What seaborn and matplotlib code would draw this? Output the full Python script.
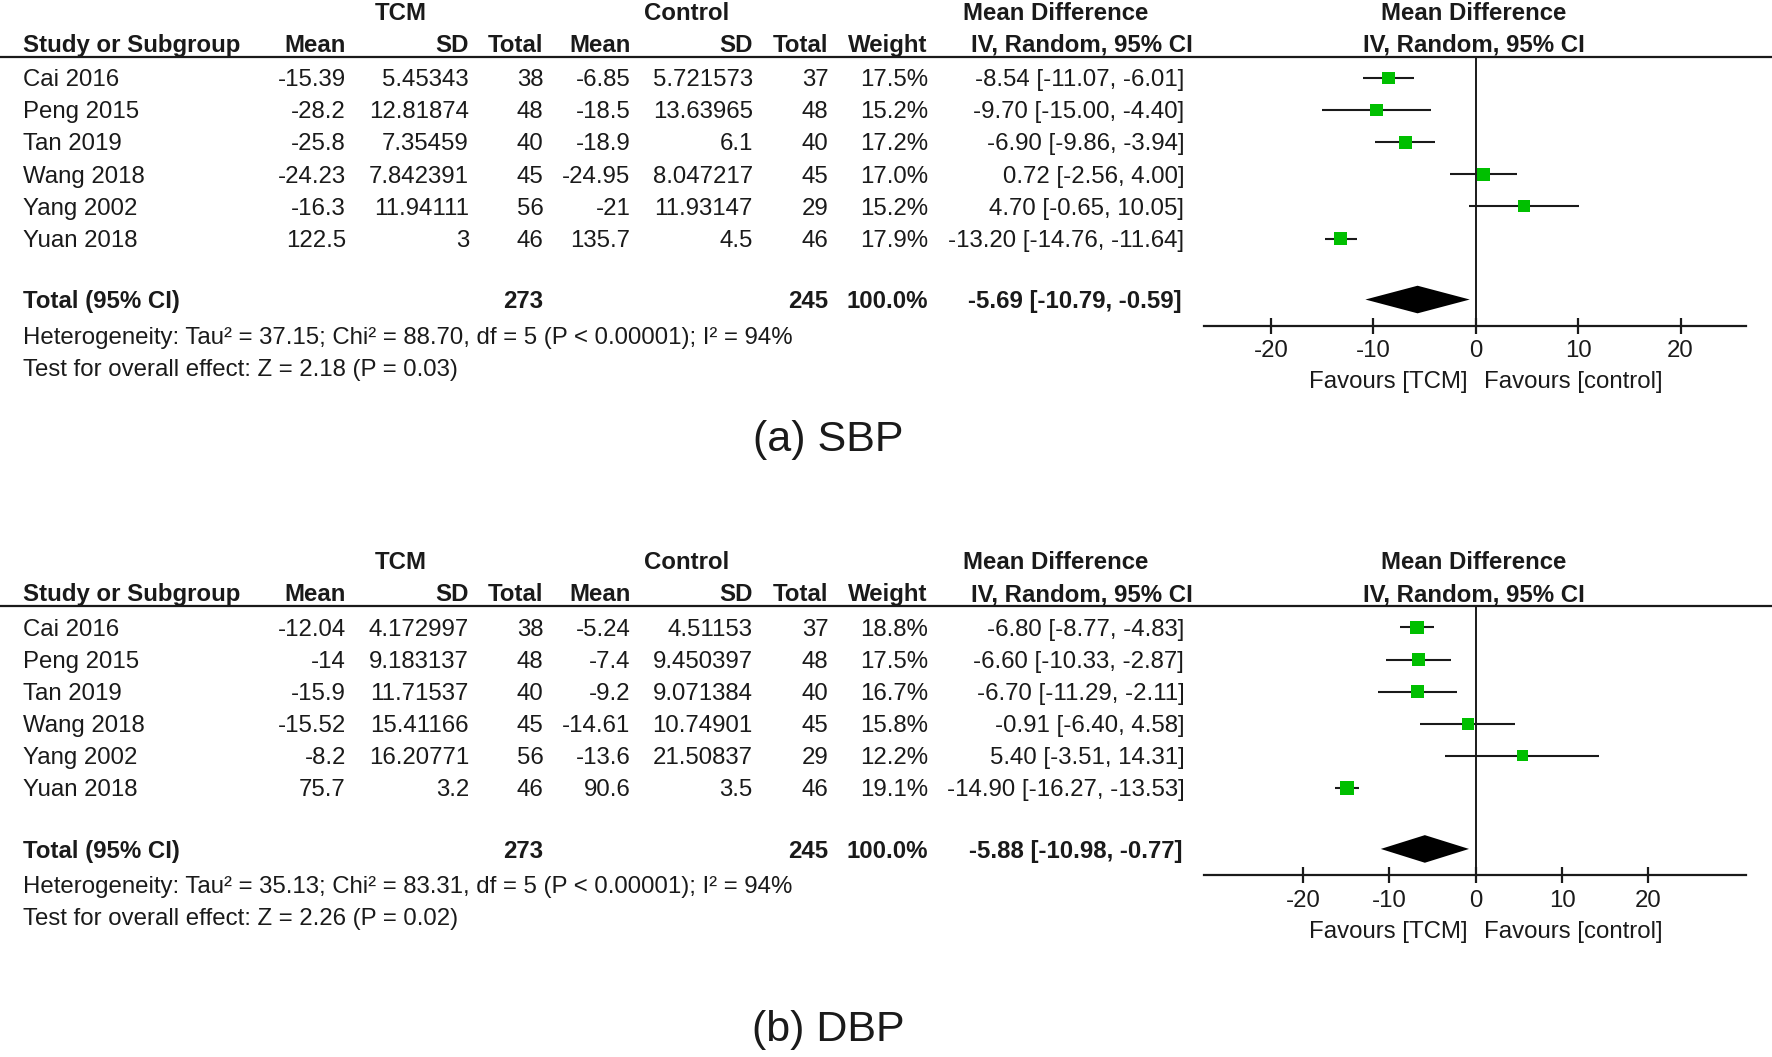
import numpy as np
import pandas as pd
import matplotlib
matplotlib.use("Agg")
import matplotlib.pyplot as plt
from matplotlib.lines import Line2D
import seaborn as sns

studies = ["Cai 2016", "Peng 2015", "Tan 2019", "Wang 2018", "Yang 2002", "Yuan 2018"]
tcm_n = [38, 48, 40, 45, 56, 46]
ctl_n = [37, 48, 40, 45, 29, 46]

# (a) SBP
sbp_tcm_mean = [-15.39, -28.2, -25.8, -24.23, -16.3, 122.5]
sbp_tcm_sd = [5.45343, 12.81874, 7.35459, 7.842391, 11.94111, 3]
sbp_ctl_mean = [-6.85, -18.5, -18.9, -24.95, -21, 135.7]
sbp_ctl_sd = [5.721573, 13.63965, 6.1, 8.047217, 11.93147, 4.5]
sbp_weight = [17.5, 15.2, 17.2, 17.0, 15.2, 17.9]
sbp_md = [-8.54, -9.70, -6.90, 0.72, 4.70, -13.20]
sbp_lo = [-11.07, -15.00, -9.86, -2.56, -0.65, -14.76]
sbp_hi = [-6.01, -4.40, -3.94, 4.00, 10.05, -11.64]
sbp_total = [-5.69, -10.79, -0.59]
sbp_het = "Heterogeneity: Tau² = 37.15; Chi² = 88.70, df = 5 (P < 0.00001); I² = 94%"
sbp_test = "Test for overall effect: Z = 2.18 (P = 0.03)"

# (b) DBP
dbp_tcm_mean = [-12.04, -14, -15.9, -15.52, -8.2, 75.7]
dbp_tcm_sd = [4.172997, 9.183137, 11.71537, 15.41166, 16.20771, 3.2]
dbp_ctl_mean = [-5.24, -7.4, -9.2, -14.61, -13.6, 90.6]
dbp_ctl_sd = [4.51153, 9.450397, 9.071384, 10.74901, 21.50837, 3.5]
dbp_weight = [18.8, 17.5, 16.7, 15.8, 12.2, 19.1]
dbp_md = [-6.80, -6.60, -6.70, -0.91, 5.40, -14.90]
dbp_lo = [-8.77, -10.33, -11.29, -6.40, -3.51, -16.27]
dbp_hi = [-4.83, -2.87, -2.11, 4.58, 14.31, -13.53]
dbp_total = [-5.88, -10.98, -0.77]
dbp_het = "Heterogeneity: Tau² = 35.13; Chi² = 83.31, df = 5 (P < 0.00001); I² = 94%"
dbp_test = "Test for overall effect: Z = 2.26 (P = 0.02)"

xticks = [-20, -10, 0, 10, 20]

sns.set_theme(style="white")
plt.rcParams['font.family'] = ['Liberation Sans', 'DejaVu Sans']
plt.rcParams['axes.unicode_minus'] = False

# layout grid in reference units
W, H = 1568.0, 935.0
SP = 28.4
FS = 17.3
INK = '#1a1a1a'
GREEN = '#00bf00'


def fx(x):
    return x / W


def fy(y):
    return 1 - y / H


def fmt(v):
    return f"{v:.10g}"


fig = plt.figure(figsize=(17.72, 10.57), dpi=100)


def txt(x, y, s, ha='right', bold=False, size=FS):
    fig.text(fx(x), fy(y + 2), s, ha=ha, va='center', fontsize=size,
             fontweight='bold' if bold else 'normal', color=INK)


def panel(row0, t_mean, t_sd, c_mean, c_sd, weight, md, lo, hi, total,
          het, test, xlim, title, title_y):
    # header
    txt(355, row0 - 59, "TCM", ha='center', bold=True)
    txt(608, row0 - 59, "Control", ha='center', bold=True)
    txt(934, row0 - 59, "Mean Difference", ha='center', bold=True)
    txt(1304, row0 - 59, "Mean Difference", ha='center', bold=True)
    y2 = row0 - 31
    txt(20, y2, "Study or Subgroup", ha='left', bold=True)
    for x, s in zip([306, 415, 481, 558, 666, 733, 821],
                    ["Mean", "SD", "Total", "Mean", "SD", "Total", "Weight"]):
        txt(x, y2, s, bold=True)
    txt(957, y2, "IV, Random, 95% CI", ha='center', bold=True)
    txt(1304, y2, "IV, Random, 95% CI", ha='center', bold=True)
    fig.add_artist(Line2D([0, 1], [fy(row0 - 19)] * 2, lw=1.6, color=INK,
                          transform=fig.transFigure))

    # study rows
    for i, name in enumerate(studies):
        y = row0 + i * SP
        txt(20, y, name, ha='left')
        cells = [fmt(t_mean[i]), fmt(t_sd[i]), str(tcm_n[i]),
                 fmt(c_mean[i]), fmt(c_sd[i]), str(ctl_n[i]),
                 f"{weight[i]:.1f}%",
                 f"{md[i]:.2f} [{lo[i]:.2f}, {hi[i]:.2f}]"]
        for x, s in zip([306, 415, 481, 558, 666, 733, 821, 1048], cells):
            txt(x, y, s)

    yt = row0 + 6.9 * SP
    txt(20, yt, "Total (95% CI)", ha='left', bold=True)
    txt(481, yt, str(sum(tcm_n)), bold=True)
    txt(733, yt, str(sum(ctl_n)), bold=True)
    txt(821, yt, "100.0%", bold=True)
    txt(1046, yt, f"{total[0]:.2f} [{total[1]:.2f}, {total[2]:.2f}]", bold=True)
    txt(20, row0 + 228, het, ha='left')
    txt(20, row0 + 256, test, ha='left')

    # forest plot
    top, bot = -0.67, 7.71
    ax = fig.add_axes([fx(1065), fy(row0 + bot * SP), fx(1545) - fx(1065),
                       (bot - top) * SP / H])
    ax.set_xlim(*xlim)
    ax.set_ylim(bot, top)
    ax.axvline(0, color=INK, lw=1.4)
    rows = np.arange(len(studies))
    ax.hlines(rows, lo, hi, color=INK, lw=1.5)
    df = pd.DataFrame({"md": md, "row": rows, "weight": weight})
    sns.scatterplot(data=df, x="md", y="row", size="weight", sizes=(0, 100),
                    size_norm=(0, 20), marker='s', color=GREEN, linewidth=0,
                    legend=False, ax=ax, zorder=3)
    h = 0.43
    ax.fill([total[1], total[0], total[2], total[0]],
            [6.9, 6.9 - h, 6.9, 6.9 + h], color='black', lw=0)
    sns.despine(ax=ax, left=True)
    ax.spines['bottom'].set_linewidth(1.6)
    ax.spines['bottom'].set_color(INK)
    ax.set_yticks([])
    ax.set_xticks(xticks)
    ax.set_xlabel("")
    ax.set_ylabel("")
    ax.tick_params(axis='x', bottom=True, direction='inout', length=11,
                   width=1.6, labelsize=FS, pad=5, colors=INK)
    ax.patch.set_alpha(0)
    ax.annotate("Favours [TCM]", xy=(0, 0), xycoords=('data', 'axes fraction'),
                xytext=(-6, -41), textcoords='offset points', ha='right',
                va='center', fontsize=FS, color=INK)
    ax.annotate("Favours [control]", xy=(0, 0), xycoords=('data', 'axes fraction'),
                xytext=(6, -41), textcoords='offset points', ha='left',
                va='center', fontsize=FS, color=INK)

    txt(733, title_y, title, ha='center', size=31)


panel(69, sbp_tcm_mean, sbp_tcm_sd, sbp_ctl_mean, sbp_ctl_sd, sbp_weight,
      sbp_md, sbp_lo, sbp_hi, sbp_total, sbp_het, sbp_test,
      (-26.6, 26.4), "(a) SBP", 387)
panel(555, dbp_tcm_mean, dbp_tcm_sd, dbp_ctl_mean, dbp_ctl_sd, dbp_weight,
      dbp_md, dbp_lo, dbp_hi, dbp_total, dbp_het, dbp_test,
      (-31.5, 31.3), "(b) DBP", 909)

fig.savefig("out.png", dpi=100)
